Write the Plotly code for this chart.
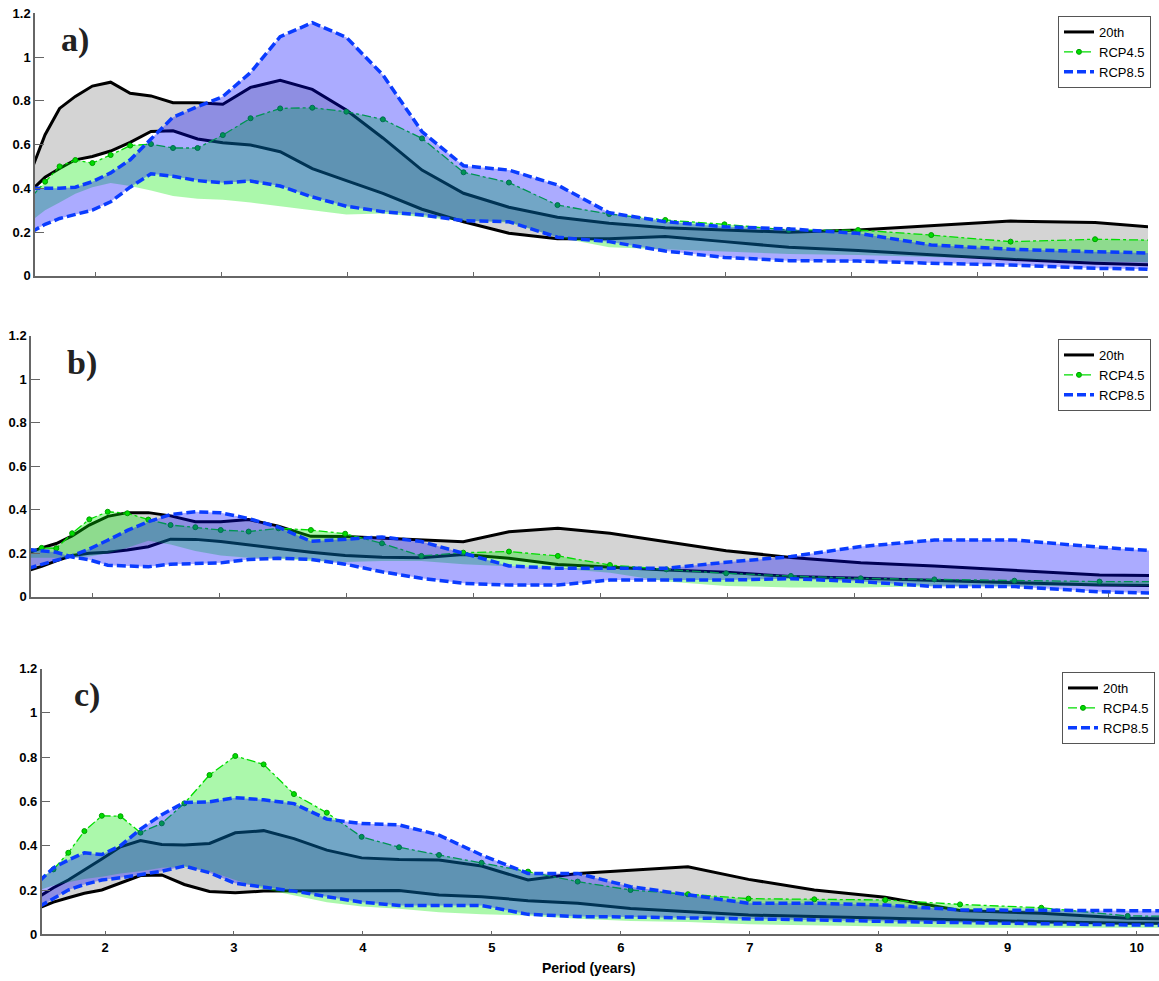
import plotly.graph_objects as go

W, H = 1159, 981

# Period grid (years)
X = [1.49, 1.60, 1.715, 1.84, 1.975, 2.12, 2.275, 2.44, 2.615, 2.81, 3.01, 3.23, 3.465, 3.72, 3.99,
     4.28, 4.59, 4.92, 5.28, 5.665, 6.075, 6.52, 6.99, 7.50, 8.05, 8.63, 9.26, 9.93, 10.65]

# ---------- panel a ----------
A_20_up = [0.48, 0.645, 0.765, 0.82, 0.867, 0.885, 0.834, 0.822, 0.791, 0.791, 0.784, 0.861, 0.893, 0.852, 0.758,
           0.63, 0.483, 0.377, 0.313, 0.267, 0.240, 0.220, 0.209, 0.199, 0.209, 0.227, 0.250, 0.243, 0.21]
A_20_lo = [0.39, 0.45, 0.49, 0.53, 0.545, 0.57, 0.61, 0.66, 0.663, 0.625, 0.608, 0.598, 0.567, 0.49, 0.435,
           0.377, 0.304, 0.247, 0.194, 0.169, 0.169, 0.179, 0.156, 0.130, 0.115, 0.095, 0.075, 0.057, 0.045]
A_45_up = [0.36, 0.43, 0.50, 0.529, 0.515, 0.552, 0.595, 0.602, 0.584, 0.584, 0.643, 0.720, 0.765, 0.768, 0.750,
           0.715, 0.628, 0.473, 0.426, 0.323, 0.282, 0.255, 0.235, 0.209, 0.209, 0.186, 0.156, 0.167, 0.16]
A_45_lo = [0.25, 0.30, 0.335, 0.375, 0.405, 0.424, 0.41, 0.39, 0.365, 0.352, 0.347, 0.335, 0.32, 0.30, 0.28,
           0.285, 0.27, 0.252, 0.243, 0.176, 0.13, 0.12, 0.11, 0.10, 0.095, 0.085, 0.075, 0.065, 0.06]
A_85_up = [0.40, 0.40, 0.40, 0.405, 0.43, 0.47, 0.53, 0.625, 0.725, 0.773, 0.819, 0.929, 1.093, 1.157, 1.09,
           0.918, 0.659, 0.503, 0.483, 0.415, 0.288, 0.247, 0.224, 0.214, 0.194, 0.141, 0.121, 0.110, 0.10]
A_85_lo = [0.20, 0.235, 0.262, 0.28, 0.30, 0.338, 0.405, 0.466, 0.455, 0.435, 0.425, 0.433, 0.41, 0.36, 0.318,
           0.293, 0.278, 0.252, 0.247, 0.176, 0.156, 0.113, 0.084, 0.069, 0.067, 0.057, 0.049, 0.034, 0.027]

# ---------- panel b ----------
B_20_up = [0.20, 0.225, 0.245, 0.28, 0.33, 0.37, 0.387, 0.387, 0.372, 0.345, 0.345, 0.355, 0.325, 0.278, 0.277,
           0.269, 0.261, 0.253, 0.299, 0.315, 0.292, 0.253, 0.212, 0.181, 0.157, 0.142, 0.123, 0.10, 0.096]
B_20_lo = [0.12, 0.14, 0.165, 0.19, 0.20, 0.205, 0.215, 0.23, 0.265, 0.264, 0.254, 0.24, 0.222, 0.205, 0.19,
           0.182, 0.18, 0.195, 0.177, 0.149, 0.135, 0.123, 0.113, 0.093, 0.085, 0.074, 0.065, 0.054, 0.05]
B_45_up = [0.21, 0.225, 0.223, 0.292, 0.356, 0.391, 0.384, 0.355, 0.33, 0.32, 0.307, 0.30, 0.315, 0.307, 0.29,
           0.246, 0.188, 0.203, 0.208, 0.188, 0.146, 0.126, 0.108, 0.096, 0.085, 0.08, 0.074, 0.07, 0.07]
B_45_lo = [0.18, 0.18, 0.18, 0.18, 0.185, 0.20, 0.225, 0.258, 0.24, 0.21, 0.19, 0.18, 0.175, 0.165, 0.16,
           0.165, 0.165, 0.15, 0.14, 0.13, 0.11, 0.07, 0.05, 0.043, 0.043, 0.048, 0.05, 0.05, 0.05]
B_85_up = [0.13, 0.15, 0.168, 0.188, 0.22, 0.26, 0.305, 0.345, 0.378, 0.391, 0.386, 0.36, 0.32, 0.255, 0.265,
           0.275, 0.254, 0.20, 0.142, 0.131, 0.131, 0.131, 0.159, 0.185, 0.231, 0.261, 0.261, 0.228, 0.20]
B_85_lo = [0.218, 0.212, 0.205, 0.183, 0.17, 0.145, 0.14, 0.138, 0.15, 0.151, 0.156, 0.172, 0.177, 0.172, 0.15,
           0.115, 0.085, 0.062, 0.054, 0.054, 0.077, 0.077, 0.077, 0.083, 0.07, 0.047, 0.047, 0.023, 0.013]

# ---------- panel c ----------
C_20_up = [0.17, 0.21, 0.245, 0.29, 0.34, 0.395, 0.423, 0.405, 0.403, 0.41, 0.458, 0.468, 0.432, 0.38, 0.345,
           0.338, 0.335, 0.308, 0.245, 0.275, 0.29, 0.305, 0.248, 0.20, 0.167, 0.107, 0.095, 0.072, 0.068]
C_20_lo = [0.12, 0.145, 0.165, 0.185, 0.2, 0.23, 0.265, 0.268, 0.225, 0.193, 0.188, 0.195, 0.196, 0.196, 0.196,
           0.198, 0.177, 0.17, 0.152, 0.14, 0.117, 0.102, 0.087, 0.08, 0.072, 0.065, 0.057, 0.05, 0.048]
C_45_up = [0.245, 0.293, 0.368, 0.466, 0.535, 0.533, 0.459, 0.501, 0.591, 0.719, 0.805, 0.767, 0.633, 0.549, 0.44,
           0.393, 0.358, 0.323, 0.283, 0.238, 0.20, 0.181, 0.161, 0.158, 0.155, 0.135, 0.12, 0.083, 0.08]
C_45_lo = [0.20, 0.22, 0.235, 0.25, 0.26, 0.275, 0.285, 0.30, 0.305, 0.285, 0.245, 0.205, 0.175, 0.145, 0.125,
           0.115, 0.10, 0.09, 0.085, 0.07, 0.06, 0.055, 0.045, 0.04, 0.035, 0.03, 0.03, 0.03, 0.03]
C_85_up = [0.24, 0.30, 0.335, 0.368, 0.36, 0.40, 0.475, 0.54, 0.595, 0.598, 0.617, 0.607, 0.59, 0.52, 0.50,
           0.494, 0.448, 0.358, 0.275, 0.275, 0.215, 0.177, 0.14, 0.14, 0.132, 0.11, 0.11, 0.11, 0.105]
C_85_lo = [0.125, 0.16, 0.2, 0.225, 0.245, 0.255, 0.268, 0.285, 0.308, 0.278, 0.23, 0.215, 0.195, 0.17, 0.145,
           0.13, 0.13, 0.13, 0.09, 0.08, 0.078, 0.075, 0.07, 0.065, 0.058, 0.052, 0.047, 0.042, 0.04]

Y_TICKS = [0, 0.2, 0.4, 0.6, 0.8, 1.0, 1.2]
Y_TICKTEXT = ["0", "0.2", "0.4", "0.6", "0.8", "1", "1.2"]
X_TICKS = [2, 3, 4, 5, 6, 7, 8, 9, 10]
SERIES = ["20th", "RCP4.5", "RCP8.5"]
PANELS = ["a)", "b)", "c)"]

BLACK = "#000000"
GREEN = "#00dd00"
BLUE = "#0a3cff"
F_GRAY = "rgba(0,0,0,0.17)"
F_GREEN = "rgba(0,235,0,0.33)"
F_BLUE = "rgba(0,0,255,0.33)"

fig = go.Figure()

panels = [
    (A_20_up, A_20_lo, A_45_up, A_45_lo, A_85_up, A_85_lo),
    (B_20_up, B_20_lo, B_45_up, B_45_lo, B_85_up, B_85_lo),
    (C_20_up, C_20_lo, C_45_up, C_45_lo, C_85_up, C_85_lo),
]
legend_ids = ["legend", "legend2", "legend3"]


def band(xa, ya, up, lo, color):
    fig.add_trace(go.Scatter(x=X + X[::-1], y=up + lo[::-1], mode="lines", fill="toself",
                             fillcolor=color, line=dict(width=0), showlegend=False,
                             hoverinfo="skip", xaxis=xa, yaxis=ya))


for i, (u20, l20, u45, l45, u85, l85) in enumerate(panels):
    xa = "x" if i == 0 else f"x{i+1}"
    ya = "y" if i == 0 else f"y{i+1}"
    lg = legend_ids[i]
    # 20th century
    band(xa, ya, u20, l20, F_GRAY)
    fig.add_trace(go.Scatter(x=X, y=u20, mode="lines", line=dict(color=BLACK, width=3),
                             name=SERIES[0], legend=lg, xaxis=xa, yaxis=ya))
    fig.add_trace(go.Scatter(x=X, y=l20, mode="lines", line=dict(color=BLACK, width=3),
                             showlegend=False, xaxis=xa, yaxis=ya))
    # RCP4.5
    band(xa, ya, u45, l45, F_GREEN)
    fig.add_trace(go.Scatter(x=X, y=u45, mode="lines+markers",
                             line=dict(color=GREEN, width=1.3, dash="dashdot"),
                             marker=dict(symbol="circle", size=5, color=GREEN,
                                         line=dict(width=1, color="#00a000")),
                             name=SERIES[1], legend=lg, xaxis=xa, yaxis=ya))
    # RCP8.5
    band(xa, ya, u85, l85, F_BLUE)
    fig.add_trace(go.Scatter(x=X, y=u85, mode="lines",
                             line=dict(color=BLUE, width=3.5, dash="9px,4px"),
                             name=SERIES[2], legend=lg, xaxis=xa, yaxis=ya))
    fig.add_trace(go.Scatter(x=X, y=l85, mode="lines",
                             line=dict(color=BLUE, width=3.5, dash="9px,4px"),
                             showlegend=False, xaxis=xa, yaxis=ya))

TICKFONT = dict(family="Liberation Sans, Arial", size=13, color="black", weight="bold")
AXCOL = "#666666"

xdom = [[35 / W, 1148 / W], [31 / W, 1149 / W], [41.7 / W, 1.0]]
xrng = [[1.52, 10.35], [1.516, 10.32], [1.509, 10.173]]
ydom = [[1 - 275.75 / H, 1 - 13.25 / H], [1 - 596.8 / H, 1 - 335.8 / H], [1 - 934.3 / H, 1 - 668.5 / H]]

layout = dict(width=W, height=H, margin=dict(l=0, r=0, t=0, b=0, autoexpand=False),
              paper_bgcolor="white", plot_bgcolor="white", showlegend=True)

for i in range(3):
    xk = "xaxis" if i == 0 else f"xaxis{i+1}"
    yk = "yaxis" if i == 0 else f"yaxis{i+1}"
    ya = "y" if i == 0 else f"y{i+1}"
    xa = "x" if i == 0 else f"x{i+1}"
    layout[xk] = dict(domain=xdom[i], range=xrng[i], anchor=ya, showgrid=False, zeroline=False,
                      showline=True, linecolor=AXCOL, linewidth=1.5,
                      ticks="inside", ticklen=4, tickcolor=AXCOL, tickvals=X_TICKS,
                      showticklabels=(i == 2), tickfont=TICKFONT)
    layout[yk] = dict(domain=ydom[i], range=[0, 1.2], anchor=xa, showgrid=False, zeroline=False,
                      showline=True, linecolor=AXCOL, linewidth=1.5,
                      ticks="inside", ticklen=9, tickcolor=AXCOL,
                      tickvals=Y_TICKS, ticktext=Y_TICKTEXT, tickfont=TICKFONT)

leg_common = dict(bgcolor="white", bordercolor="#555555", borderwidth=1,
                  font=dict(family="Liberation Sans, Arial", size=13, color="black"),
                  xanchor="left", yanchor="top", itemwidth=30, tracegroupgap=0,
                  traceorder="normal")
layout["legend"] = dict(x=1058 / W, y=1 - 16 / H, **leg_common)
layout["legend2"] = dict(x=1058 / W, y=1 - 339 / H, **leg_common)
layout["legend3"] = dict(x=1062 / W, y=1 - 672 / H, **leg_common)

fig.update_layout(**layout)

label_pos = [(75, 40), (82, 363), (87, 695)]
for lab, (px, py) in zip(PANELS, label_pos):
    fig.add_annotation(x=px / W, y=1 - py / H, xref="paper", yref="paper", text=lab,
                       showarrow=False, xanchor="center", yanchor="middle",
                       font=dict(family="Liberation Serif, DejaVu Serif", size=34, color="#222222",
                                 weight="bold"))

fig.add_annotation(x=588 / W, y=1 - 968 / H, xref="paper", yref="paper", text="Period (years)",
                   showarrow=False, xanchor="center", yanchor="middle",
                   font=dict(family="Liberation Sans, Arial", size=14, color="black", weight="bold"))

fig.write_html("out.html")
